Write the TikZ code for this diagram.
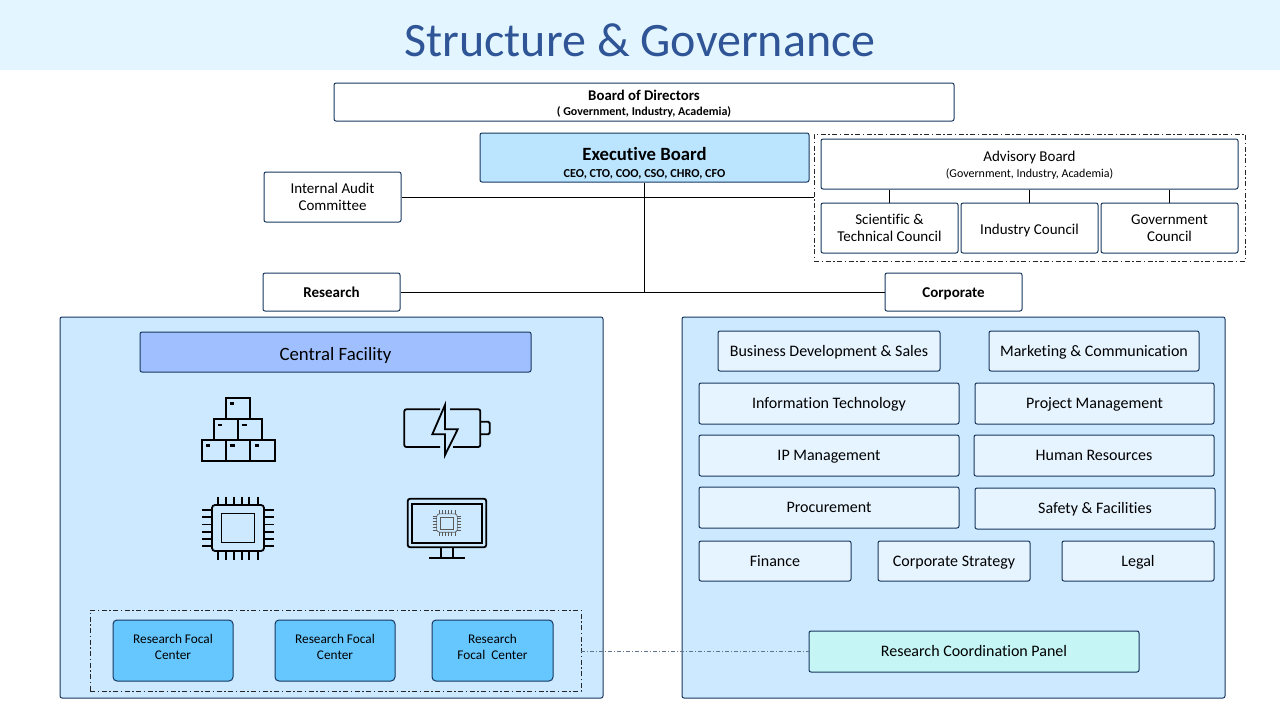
\documentclass[tikz,border=0pt]{standalone}
\usepackage{fontspec}
\setmainfont[Ligatures=NoCommon]{Carlito}
\usetikzlibrary{positioning}

\definecolor{navyline}{HTML}{17375E}
\definecolor{titleband}{HTML}{E3F6FF}
\definecolor{titleblue}{HTML}{2F5597}
\definecolor{execblue}{HTML}{BBE5FF}
\definecolor{panelblue}{HTML}{CCE9FF}
\definecolor{facilityblue}{HTML}{A0BFFF}
\definecolor{focalblue}{HTML}{66C7FF}
\definecolor{unitblue}{HTML}{E6F4FF}
\definecolor{coordteal}{HTML}{C5F5F5}

\tikzset{
  box/.style={draw=navyline, rounded corners=2pt, line width=1pt, align=center, inner sep=0pt, text=black,
    font=\fontsize{15}{17}\selectfont},
  oneline/.style={text height=10.5pt, text depth=0pt},
  orgbox/.style={box, fill=white},
  unitbox/.style={box, oneline, fill=unitblue, font=\fontsize{16}{18}\selectfont},
  panelbox/.style={box, fill=panelblue},
  focalbox/.style={box, fill=focalblue, rounded corners=4pt, font=\fontsize{13.3}{16}\selectfont,
    text depth=8pt, minimum width=120pt, minimum height=61pt},
  frame/.style={draw=black!85, line width=0.7pt, dash pattern=on 5pt off 2.5pt on 1.5pt off 2.5pt, inner sep=0pt},
  link/.style={draw=black, line width=1pt},
  icon/.style={draw=black, line width=1.8pt},
  chipline/.style={icon},
  chipicon/.pic={
    \draw[chipline, rounded corners=3pt] (-26,-23) rectangle (26,23);
    \draw[chipline] (-16.5,-14.5) rectangle (16.5,14.5);
    \foreach \i in {-20.4,-12.4,-4.4,3.6,11.2,20} {
      \draw[chipline] (\i,-31.5) -- (\i,-23);
      \draw[chipline] (\i,23) -- (\i,31.5);
    }
    \foreach \j in {-18,-10.8,-3.6,3.6,10.8,18} {
      \draw[chipline] (-36,\j) -- (-26,\j);
      \draw[chipline] (26,\j) -- (36,\j);
    }
  }
}

\begin{document}
\begin{tikzpicture}[x=1pt,y=-1pt]
  \useasboundingbox (0,0) rectangle (1280,720);
  \fill[titleband] (0,0) rectangle (1280,70);
  \node[text=titleblue, font=\fontsize{48}{52}\selectfont] (title) at (640,40) {Structure \& Governance};

  \node[orgbox, minimum width=620pt, minimum height=38pt, font=\fontsize{14.8}{15}\selectfont\bfseries, text height=28pt] (board) at (644,102)
    {Board of Directors\\{\fontsize{12}{13}\selectfont ( Government, Industry, Academia)}};
  \node[box, fill=execblue, minimum width=329pt, minimum height=49pt, font=\fontsize{18.7}{17}\selectfont\bfseries, text height=41pt] (exec) at (644.5,157.5)
    {Executive Board\\{\fontsize{12.2}{13}\selectfont CEO, CTO, COO, CSO, CHRO, CFO}};

  \node[frame, minimum width=431pt, minimum height=127pt] (advframe) at (1029.5,197.5) {};
  \node[orgbox, minimum width=417pt, minimum height=50pt, font=\fontsize{15}{16}\selectfont, text height=29pt] (adv) at (1029.5,164)
    {Advisory Board\\{\fontsize{12}{14}\selectfont (Government, Industry, Academia)}};
  \node[orgbox, minimum width=137pt, minimum height=50pt] (sci) at (889.5,228) {Scientific \&\\Technical Council};
  \node[orgbox, oneline, text height=12pt, minimum width=137pt, minimum height=50pt] (ind) at (1029.5,228) {Industry Council};
  \node[orgbox, minimum width=137pt, minimum height=50pt] (gov) at (1169.5,228) {Government\\Council};

  \node[orgbox, minimum width=137pt, minimum height=50pt] (audit) at (332.5,197) {Internal Audit\\Committee};
  \node[orgbox, oneline, minimum width=137pt, minimum height=38pt, font=\fontsize{15}{17}\selectfont\bfseries] (research) at (331.5,292) {Research};
  \node[orgbox, oneline, minimum width=137pt, minimum height=38pt, font=\fontsize{15}{17}\selectfont\bfseries] (corporate) at (953.5,292) {Corporate};
  \coordinate (hub) at (exec.south |- research.east);

  \foreach \c in {sci,ind,gov}
    \draw[link] (adv.south -| \c.north) -- (\c.north);
  \draw[link] (audit.east) -- (advframe.west |- audit.east);
  \draw[link] (exec.south) -- (hub);
  \draw[link] (research.east) -- (corporate.west);

  \node[panelbox, minimum width=543pt, minimum height=381pt] (left) at (331.5,507.5) {};
  \node[panelbox, minimum width=543pt, minimum height=381pt] (right) at (953.5,507.5) {};

  \node[box, fill=facilityblue, minimum width=391pt, minimum height=40pt, font=\fontsize{18.8}{20}\selectfont,
    text height=17pt, text depth=0pt] (central) at (335.5,352) {Central Facility};

  \foreach \x/\y in {225.7/397.7, 213.7/419, 238/419, 201.7/439.7, 226/439.7, 250.3/439.7} {
    \draw[icon] (\x,\y) rectangle ++(24.3,21);
    \fill (\x+4.3,\y+4.6) rectangle ++(4.4,2.4);
  }

  \draw[icon, rounded corners=2pt] (440,409.3) -- (404.3,409.3) -- (404.3,447) -- (440,447);
  \draw[icon, rounded corners=2pt] (450,409.3) -- (480.3,409.3) -- (480.3,447) -- (453,447);
  \draw[icon, rounded corners=1.5pt] (480.3,421.7) -- (489.7,421.7) -- (489.7,434.3) -- (480.3,434.3);
  \draw[icon, miter limit=10] (445,405) -- (432.3,434.3) -- (445,434.3) -- (445,455) -- (457.7,429.3) -- (445,429.3) -- cycle;

  \pic at (238,528) {chipicon};

  \draw[icon, rounded corners=2.5pt] (407.7,498.7) rectangle (486.3,547.3);
  \draw[icon] (412.3,503.7) rectangle (481.7,542.7);
  \draw[icon] (440.7,547.3) -- (440.7,557.7) (453.3,547.3) -- (453.3,557.7) (429.3,557.7) -- (465,557.7);
  \pic[chipline/.style={draw=black!65, line width=0.6pt}, scale=0.4] at (447,523) {chipicon};

  \node[frame, minimum width=491pt, minimum height=81pt] (focalframe) at (335.5,650.5) {};
  \node[focalbox] (focala) at (173,650.5) {Research Focal\\Center};
  \node[focalbox] (focalb) at (335,650.5) {Research Focal\\Center};
  \node[focalbox, minimum width=121pt] (focalc) at (492.5,650.5) {Research\\Focal~~Center};

  \node[unitbox, minimum width=222pt, minimum height=40pt] (sales) at (829,351) {Business Development \& Sales};
  \node[unitbox, minimum width=210pt, minimum height=40pt] (marketing) at (1094,351) {Marketing \& Communication};
  \node[unitbox, minimum width=260pt, minimum height=41pt] (infotech) at (829,403.5) {Information Technology};
  \node[unitbox, minimum width=239pt, minimum height=41pt] (project) at (1094.5,403.5) {Project Management};
  \node[unitbox, minimum width=260pt, minimum height=41pt] (ipmgmt) at (829,455.5) {IP Management};
  \node[unitbox, minimum width=240pt, minimum height=41pt] (human) at (1094,455.5) {Human Resources};
  \node[unitbox, minimum width=260pt, minimum height=41pt] (procure) at (829,507.5) {Procurement};
  \node[unitbox, minimum width=240pt, minimum height=41pt] (safety) at (1095,508.5) {Safety \& Facilities};
  \node[unitbox, minimum width=152pt, minimum height=40pt] (finance) at (775,561) {Finance};
  \node[unitbox, minimum width=152pt, minimum height=40pt] (strategy) at (954,561) {Corporate Strategy};
  \node[unitbox, minimum width=152pt, minimum height=40pt] (legal) at (1138,561) {Legal};
  \node[unitbox, fill=coordteal, minimum width=330pt, minimum height=41pt] (coord) at (974,651.5) {Research Coordination Panel};

  \draw[draw=navyline!70, line width=0.5pt, dash pattern=on 4pt off 2pt on 1pt off 2pt] (focalframe.east |- coord.west) -- (coord.west);
\end{tikzpicture}
\end{document}
